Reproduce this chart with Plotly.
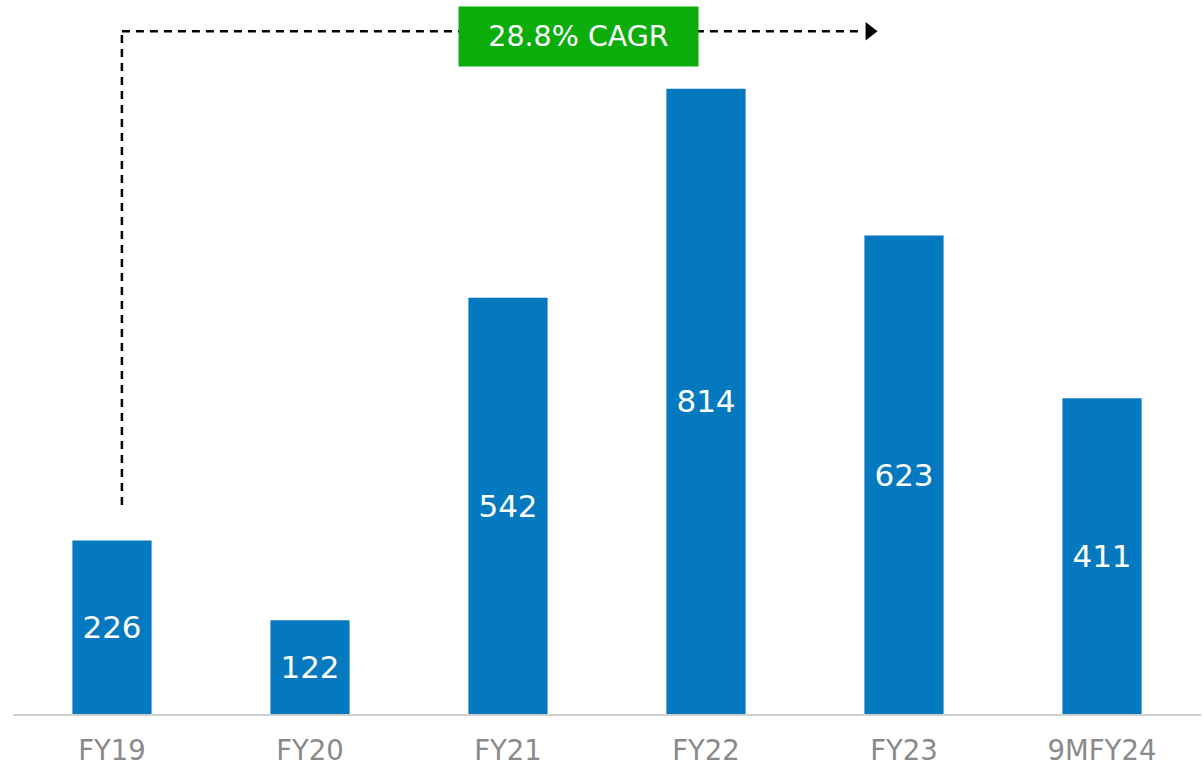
import plotly.graph_objects as go

categories = ["FY19", "FY20", "FY21", "FY22", "FY23", "9MFY24"]
values = [226, 122, 542, 814, 623, 411]
cagr_label = "28.8% CAGR"

bar_color = "#0479BF"
green = "#0AAD0A"
font_family = "DejaVu Sans"

fig = go.Figure()
fig.add_trace(go.Bar(
    x=list(range(len(categories))), y=values,
    marker=dict(color=bar_color, line=dict(width=0)),
    width=0.4,
    text=[str(v) for v in values],
    textposition="inside", insidetextanchor="middle",
    textfont=dict(color="white", size=31, family=font_family),
    textangle=0,
    cliponaxis=False,
))

y_max = 929.7
line_y = 889
x_start = 0.05
x_end = 3.79
y_start = 272

dash_line = dict(color="black", width=2.5, dash="8px,6px")
fig.add_shape(type="line", x0=x_start, x1=x_start, y0=y_start, y1=line_y, line=dash_line, xref="x", yref="y")
fig.add_shape(type="line", x0=x_start, x1=x_end, y0=line_y, y1=line_y, line=dash_line, xref="x", yref="y")
# arrow head
fig.add_trace(go.Scatter(x=[x_end + 0.036], y=[line_y], mode="markers",
                         marker=dict(symbol="triangle-right", size=16, color="black", line=dict(width=0)),
                         hoverinfo="skip", cliponaxis=False))
# CAGR box
fig.add_annotation(x=2.356, y=882, xref="x", yref="y", text=cagr_label, showarrow=False,
                   bgcolor=green, width=239, height=59, borderpad=0, align="center", valign="middle",
                   font=dict(color="white", size=28.5, family=font_family))

fig.update_layout(
    width=1204, height=772,
    margin=dict(l=13, r=3, t=0, b=58),
    plot_bgcolor="white", paper_bgcolor="white",
    showlegend=False,
    bargap=0.6,
)
fig.update_xaxes(
    tickmode="array", tickvals=list(range(len(categories))), ticktext=categories,
    range=[-0.5, len(categories) - 0.5],
    showline=True, linecolor="#D0D0D0", linewidth=2,
    showgrid=False, zeroline=False, ticks="",
    tickfont=dict(color="#8A8A8A", size=27.5, family=font_family),
    ticklabelstandoff=11,
    automargin=False,
)
fig.update_yaxes(range=[0, y_max], visible=False, showgrid=False, zeroline=False)

fig.write_html("out.html", config={"displayModeBar": False},
               post_script="document.body.style.margin='0px';document.body.style.overflow='hidden';")
